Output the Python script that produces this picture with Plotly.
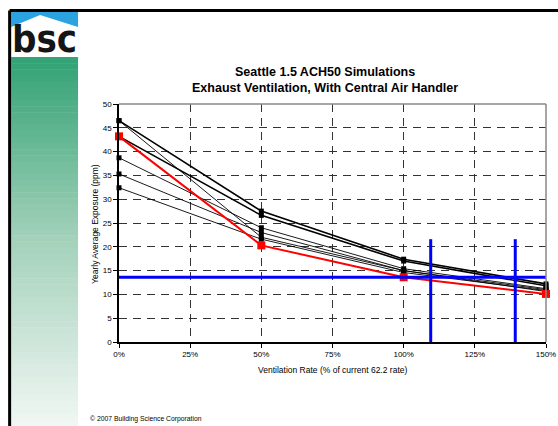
import plotly.graph_objects as go

# ---------------- data ----------------
vent_rate = [0, 50, 100, 150]  # % of current 62.2 rate

series_a = [46.5, 27.5, 17.4, 12.2]
series_b = [46.5, 22.0, 15.0, 10.6]
series_c = [43.2, 26.6, 17.0, 11.8]
series_e = [38.7, 24.0, 15.4, 11.2]
series_f = [35.3, 23.0, 15.0, 11.0]
series_g = [32.4, 21.6, 14.6, 10.8]
series_red = [43.2, 20.3, 13.6, 10.1]

target_level = 13.6          # horizontal blue line (ppm)
target_x = [0, 150]
cross_rates = [109.5, 139.2]  # vertical blue lines (%)
cross_top = 21.6

x_ticks = [0, 25, 50, 75, 100, 125, 150]
x_ticklabels = ["0%", "25%", "50%", "75%", "100%", "125%", "150%"]
y_ticks = list(range(0, 55, 5))

title_l1 = "Seattle 1.5 ACH50 Simulations"
title_l2 = "Exhaust Ventilation, With Central Air Handler"
y_title = "Yearly Average Exposure (ppm)"
x_title = "Ventilation Rate (% of current 62.2 rate)"
copyright_txt = "© 2007 Building Science Corporation"

# ---------------- layout geometry ----------------
W, H = 558, 426
L, R = 119, 546.5
T, B = 104, 342.3
PW, PH = R - L, B - T

def px(x):
    return (x - L) / PW

def py(y):
    return (B - y) / PH

FONT = "Arial, Liberation Sans, sans-serif"

fig = go.Figure()

black_series = [
    (series_a, 1.6),
    (series_b, 0.9),
    (series_c, 1.6),
    (series_e, 0.9),
    (series_f, 0.9),
    (series_g, 0.9),
]
for vals, w in black_series:
    fig.add_trace(go.Scatter(
        x=vent_rate, y=vals, mode="lines+markers",
        line=dict(color="black", width=w),
        marker=dict(symbol="square", size=5, color="black"),
        showlegend=False, hoverinfo="skip", cliponaxis=False))

fig.add_trace(go.Scatter(
    x=vent_rate, y=series_red, mode="lines+markers",
    line=dict(color="#ff0000", width=2),
    marker=dict(symbol="square", size=8, color="#ff0000"),
    showlegend=False, hoverinfo="skip", cliponaxis=False))

# blue reference lines
fig.add_trace(go.Scatter(
    x=target_x, y=[target_level, target_level], mode="lines",
    line=dict(color="#0000ff", width=3), showlegend=False, hoverinfo="skip"))
for cx in cross_rates:
    fig.add_trace(go.Scatter(
        x=[cx, cx], y=[0, cross_top], mode="lines",
        line=dict(color="#0000ff", width=3), showlegend=False, hoverinfo="skip"))

shapes = []
# frame borders
shapes.append(dict(type="line", xref="paper", yref="paper",
                   x0=px(9.5), x1=px(W + 2), y0=py(10.5), y1=py(10.5),
                   line=dict(color="black", width=3), layer="above"))
shapes.append(dict(type="line", xref="paper", yref="paper",
                   x0=px(9.5), x1=px(9.5), y0=py(10.5), y1=py(H + 2),
                   line=dict(color="black", width=3), layer="above"))

# logo panel: green gradient strip
x0p, x1p = px(11), px(78)
g_top, g_bot = 57, H
n = 60
c_top = (52, 163, 118)
c_mid = (165, 210, 188)
c_bot = (240, 247, 243)
for i in range(n):
    t = i / (n - 1)
    if t < 0.5:
        u = t / 0.5
        c = [c_top[k] + (c_mid[k] - c_top[k]) * u for k in range(3)]
    else:
        u = (t - 0.5) / 0.5
        c = [c_mid[k] + (c_bot[k] - c_mid[k]) * u for k in range(3)]
    ya = g_top + (g_bot - g_top) * i / n
    yb = g_top + (g_bot - g_top) * (i + 1) / n + 0.5
    shapes.append(dict(type="rect", xref="paper", yref="paper",
                       x0=x0p, x1=x1p, y0=py(ya), y1=py(yb),
                       fillcolor="rgb(%d,%d,%d)" % tuple(int(v) for v in c),
                       line=dict(width=0), layer="below"))
# sky
shapes.append(dict(type="rect", xref="paper", yref="paper",
                   x0=x0p, x1=x1p, y0=py(12), y1=py(57),
                   fillcolor="#2aa3e0", line=dict(width=0), layer="below"))
# roof / white area
def P(x, y):
    return "%f,%f" % (px(x), py(y))
roof = "M %s L %s L %s L %s L %s Z" % (P(11, 27), P(40, 15), P(78, 27), P(78, 57), P(11, 57))
shapes.append(dict(type="path", xref="paper", yref="paper", path=roof,
                   fillcolor="white", line=dict(width=0), layer="below"))

# plot top/right border (gray)
shapes.append(dict(type="line", xref="paper", yref="paper", x0=0, x1=1, y0=1, y1=1,
                   line=dict(color="#888888", width=1.5)))
shapes.append(dict(type="line", xref="paper", yref="paper", x0=1, x1=1, y0=0, y1=1,
                   line=dict(color="#888888", width=1.5)))

annotations = [
    dict(text="<b>bsc</b>", xref="paper", yref="paper", x=px(44), y=py(39),
         xanchor="center", yanchor="middle", showarrow=False,
         font=dict(family="DejaVu Sans Condensed, DejaVu Sans, sans-serif", size=38,
                   color="#151515")),
    dict(text="<b>%s</b>" % title_l1, xref="paper", yref="paper", x=px(325), y=py(72),
         xanchor="center", yanchor="middle", showarrow=False,
         font=dict(family=FONT, size=12.5, color="black")),
    dict(text="<b>%s</b>" % title_l2, xref="paper", yref="paper", x=px(325), y=py(88),
         xanchor="center", yanchor="middle", showarrow=False,
         font=dict(family=FONT, size=12.5, color="black")),
    dict(text=y_title, xref="paper", yref="paper", x=px(95), y=py(224),
         xanchor="center", yanchor="middle", textangle=-90, showarrow=False,
         font=dict(family=FONT, size=8.5, color="black")),
    dict(text=x_title, xref="paper", yref="paper", x=px(333), y=py(370),
         xanchor="center", yanchor="middle", showarrow=False,
         font=dict(family=FONT, size=8.5, color="black")),
    dict(text=copyright_txt, xref="paper", yref="paper", x=px(88), y=py(419),
         xanchor="left", yanchor="middle", showarrow=False,
         font=dict(family=FONT, size=6.8, color="black")),
]

fig.update_layout(
    width=W, height=H,
    margin=dict(l=L, r=W - R, t=T, b=H - B, pad=0, autoexpand=False),
    paper_bgcolor="white", plot_bgcolor="white",
    shapes=shapes, annotations=annotations,
    showlegend=False,
    font=dict(family=FONT, size=8, color="black"),
)
fig.update_xaxes(
    range=[0, 150], tickvals=x_ticks, ticktext=x_ticklabels,
    showgrid=True, gridcolor="#333333", griddash="8px,6px", gridwidth=1,
    showline=True, linecolor="black", linewidth=1.5,
    ticks="outside", ticklen=4, tickcolor="black",
    tickfont=dict(family=FONT, size=8, color="black"),
    zeroline=False, fixedrange=True, automargin=False)
fig.update_yaxes(
    range=[0, 50], tickvals=y_ticks,
    showgrid=True, gridcolor="#333333", griddash="8px,6px", gridwidth=1,
    showline=True, linecolor="black", linewidth=1.5,
    ticks="outside", ticklen=4, tickcolor="black",
    tickfont=dict(family=FONT, size=8, color="black"),
    zeroline=False, fixedrange=True, automargin=False)

fig.write_html("out.html", config={"displayModeBar": False},
               post_script="document.body.style.margin='0';document.body.style.overflow='hidden';")
